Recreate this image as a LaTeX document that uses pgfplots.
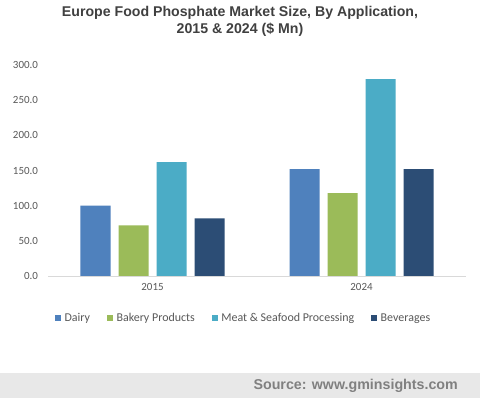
\documentclass[border=0pt]{standalone}
\usepackage{pgfplots}
\pgfplotsset{compat=1.18}
\usepackage{fontspec}
\setmainfont{Carlito}
\newfontfamily\arial{Liberation Sans}
\definecolor{dairy}{HTML}{4F81BD}
\definecolor{bakery}{HTML}{9BBB59}
\definecolor{meat}{HTML}{4BACC6}
\definecolor{bev}{HTML}{2C4D75}
\definecolor{tickgray}{HTML}{595959}
\definecolor{titlegray}{HTML}{404040}
\definecolor{srcbg}{HTML}{E8E8E8}
\definecolor{srcgray}{HTML}{808080}
\definecolor{axisgray}{HTML}{D9D9D9}
\begin{document}
\begin{tikzpicture}
\fill[white] (0bp,0bp) rectangle (480bp,398bp);
\fill[srcbg] (0bp,0bp) rectangle (480bp,25bp);
\node[anchor=east, font=\arial\bfseries\fontsize{14.3}{16}\selectfont, text=srcgray, inner sep=0pt] at (458bp,12.5bp) {Source: www.gminsights.com};
\node[align=center, font=\arial\bfseries\fontsize{14.2}{17}\selectfont, text=titlegray, inner sep=0pt] at (240bp,376.5bp) {Europe Food Phosphate Market Size, By Application,\\2015 \& 2024 (\$ Mn)};
\begin{axis}[
  at={(48bp,122bp)}, anchor=south west,
  scale only axis, width=418bp, height=211bp,
  xmin=-0.5, xmax=1.5, ymin=0, ymax=300,
  ybar=8bp, bar width=30bp,
  axis x line*=bottom, axis y line*=left,
  x axis line style={draw=axisgray, line width=0.8pt, -},
  y axis line style={draw=none},
  xtick={0,1}, xticklabels={2015,2024},
  ytick={0,50,...,300},
  major tick length=0pt,
  scaled y ticks=false,
  tick label style={font=\fontsize{11}{12}\selectfont, text=tickgray},
  y tick label style={/pgf/number format/fixed, /pgf/number format/fixed zerofill, /pgf/number format/precision=1, /pgf/number format/assume math mode=true},
  yticklabel style={xshift=-6.5bp},
  xticklabel style={yshift=-4bp},
  legend columns=4,
  legend style={draw=none, at={(0.468,-0.199)}, anchor=center, font=\fontsize{12}{13}\selectfont, text=tickgray, /tikz/every even column/.append style={column sep=15bp}, /tikz/every odd column/.append style={column sep=1.5bp}},
  legend image code/.code={\fill[#1] (0bp,-3bp) rectangle (6bp,3bp);},
]
\addplot[fill=dairy, draw=none] coordinates {(0,100) (1,152)};
\addplot[fill=bakery, draw=none] coordinates {(0,72) (1,118)};
\addplot[fill=meat, draw=none] coordinates {(0,162) (1,280)};
\addplot[fill=bev, draw=none] coordinates {(0,82) (1,152)};
\legend{Dairy, Bakery Products, Meat \& Seafood Processing, Beverages}
\end{axis}
\end{tikzpicture}
\end{document}
